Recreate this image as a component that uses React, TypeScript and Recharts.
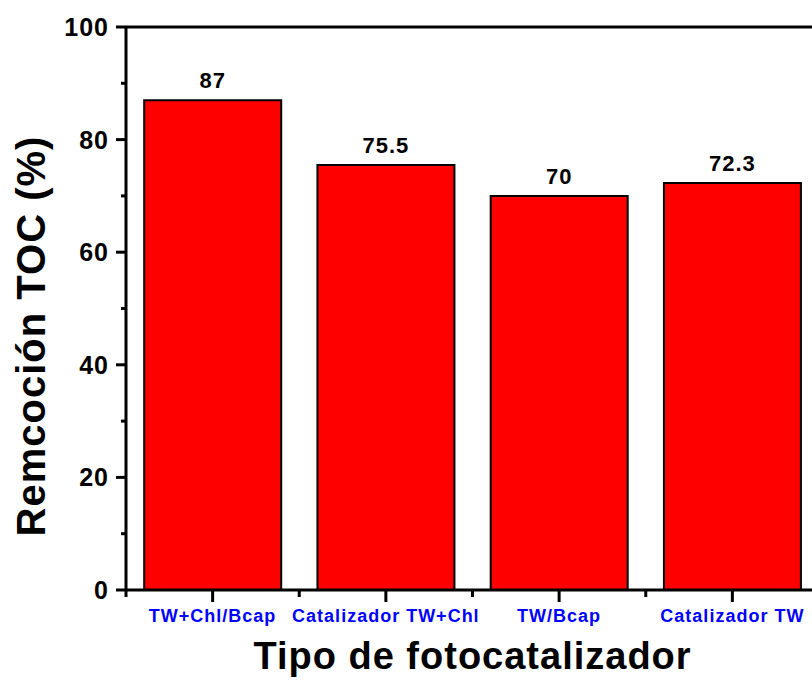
import { BarChart, Bar, XAxis, YAxis, LabelList, ReferenceLine, Label } from "recharts";

const categories = ["TW+Chl/Bcap", "Catalizador TW+Chl", "TW/Bcap", "Catalizador TW"];
const tocRemoval = [87, 75.5, 70, 72.3];
const valueLabels = ["87", "75.5", "70", "72.3"];
const yTicks = [0, 10, 20, 30, 40, 50, 60, 70, 80, 90, 100];
const yMajor = [0, 20, 40, 60, 80, 100];

const data = categories.map((name, i) => ({
  name,
  value: tocRemoval[i],
  label: valueLabels[i],
}));

const FONT = '"Liberation Sans", Arial, sans-serif';
const BAND = 693 / categories.length;

// y ticks: long line + label on major values, short line on minor ones
function YTick(props: any) {
  const { x, y, payload } = props;
  const major = yMajor.includes(payload.value);
  return (
    <g>
      <line x1={x} x2={x - (major ? 10 : 5)} y1={y} y2={y} stroke="#000" strokeWidth={3} />
      {major && (
        <text
          x={x - 17}
          y={y}
          dy="0.36em"
          textAnchor="end"
          fontFamily={FONT}
          fontWeight="bold"
          fontSize={25}
          letterSpacing={1}
          fill="#000"
        >
          {payload.value}
        </text>
      )}
    </g>
  );
}

// x ticks: major at category centre, minor at the band edges
function XTick(props: any) {
  const { x, y, payload, index } = props;
  return (
    <g>
      <line x1={x} x2={x} y1={y} y2={y + 12} stroke="#000" strokeWidth={3} />
      <line x1={x - BAND / 2} x2={x - BAND / 2} y1={y} y2={y + 7} stroke="#000" strokeWidth={3} />
      {index === categories.length - 1 && (
        <line x1={x + BAND / 2} x2={x + BAND / 2} y1={y} y2={y + 7} stroke="#000" strokeWidth={3} />
      )}
      <text
        x={x}
        y={y + 32}
        textAnchor="middle"
        fontFamily={FONT}
        fontWeight="bold"
        fontSize={18}
        letterSpacing={1}
        fill="#0000ff"
      >
        {payload.value}
      </text>
    </g>
  );
}

export default function App() {
  return (
    <div
      style={{
        position: "fixed",
        left: 0,
        top: 0,
        width: 812,
        height: 680,
        overflow: "hidden",
        background: "#fff",
      }}
    >
      <BarChart
        width={840}
        height={680}
        data={data}
        margin={{ top: 27, right: 21, left: 0, bottom: 0 }}
        barCategoryGap="10.5%"
      >
        <XAxis
          dataKey="name"
          interval={0}
          height={90}
          tickSize={0}
          tickMargin={0}
          tickLine={false}
          axisLine={{ stroke: "#000", strokeWidth: 3 }}
          tick={<XTick />}
        >
          <Label
            content={() => (
              <text
                x={472.5}
                y={669}
                textAnchor="middle"
                fontFamily={FONT}
                fontWeight="bold"
                fontSize={38}
                letterSpacing={1}
                fill="#000"
              >
                Tipo de fotocatalizador
              </text>
            )}
          />
        </XAxis>
        <YAxis
          width={126}
          domain={[0, 100]}
          ticks={yTicks}
          interval={0}
          tickSize={0}
          tickMargin={0}
          tickLine={false}
          axisLine={{ stroke: "#000", strokeWidth: 3 }}
          tick={<YTick />}
        >
          <Label
            content={() => (
              <text
                transform="translate(45,336) rotate(-90)"
                textAnchor="middle"
                fontFamily={FONT}
                fontWeight="bold"
                fontSize={40}
                letterSpacing={1}
                fill="#000"
              >
                Remcoción TOC (%)
              </text>
            )}
          />
        </YAxis>
        <ReferenceLine y={100} stroke="#000" strokeWidth={3} ifOverflow="visible" />
        <Bar dataKey="value" fill="#ff0000" stroke="#000" strokeWidth={2} isAnimationActive={false}>
          <LabelList
            dataKey="label"
            position="top"
            offset={12}
            fontFamily={FONT}
            fontWeight="bold"
            fontSize={22}
            letterSpacing={1}
            fill="#000"
          />
        </Bar>
      </BarChart>
    </div>
  );
}
